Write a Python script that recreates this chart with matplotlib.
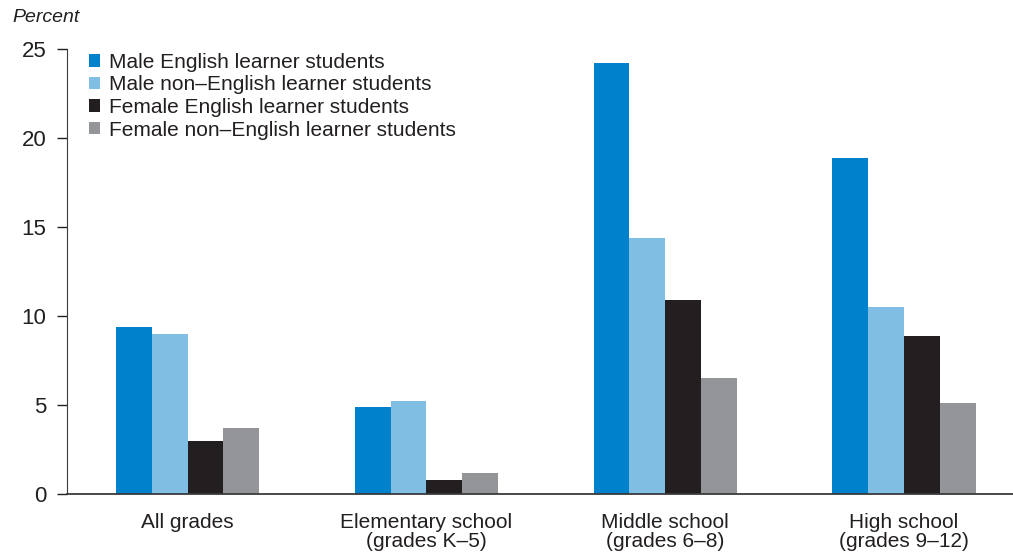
import numpy as np
import matplotlib
matplotlib.use('Agg')
import matplotlib.pyplot as plt

plt.rcParams['font.family'] = ['Liberation Sans', 'DejaVu Sans']

# 学年区分
groups = ['All grades', 'Elementary school\n(grades K–5)',
          'Middle school\n(grades 6–8)', 'High school\n(grades 9–12)']
series = ['Male English learner students', 'Male non–English learner students',
          'Female English learner students', 'Female non–English learner students']
male_el = [9.4, 4.9, 24.2, 18.9]
male_non_el = [9.0, 5.2, 14.4, 10.5]
female_el = [3.0, 0.8, 10.9, 8.9]
female_non_el = [3.7, 1.2, 6.5, 5.1]
colors = ['#0081CB', '#80BFE3', '#231F20', '#939598']

values = [male_el, male_non_el, female_el, female_non_el]

fig = plt.figure(figsize=(10.13, 5.54), dpi=100)
ax = fig.add_axes([67 / 1013, 60 / 554, 1 - 67 / 1013, 445 / 554])

x = np.arange(len(groups))
w = 0.15
for i, (vals, lab, c) in enumerate(zip(values, series, colors)):
    ax.bar(x + (i - 1.5) * w, vals, w, color=c, label=lab)

ax.set_xlim(-0.505, 3.456)
ax.set_ylim(0, 25)
ax.set_yticks([0, 5, 10, 15, 20, 25])
ax.set_xticks(x)
ax.set_xticklabels(groups, fontsize=15, color='#231F20', linespacing=0.97)
ax.tick_params(axis='x', length=0, pad=14)
ax.tick_params(axis='y', length=7, width=1, direction='out', labelsize=16,
               colors='#231F20', pad=8)
for s in ['top', 'right']:
    ax.spines[s].set_visible(False)
ax.spines['left'].set_color('#3a3a3a')
ax.spines['bottom'].set_color('#3a3a3a')
ax.spines['bottom'].set_linewidth(1.3)

fig.text(12 / 1013, 1 - 18 / 554, 'Percent', fontsize=14, style='italic',
         color='#231F20', va='center')

leg = ax.legend(loc='upper left', bbox_to_anchor=(0.014, 1.01), frameon=False,
                fontsize=15, handlelength=0.55, handleheight=0.55,
                handletextpad=0.45, labelspacing=0.17, borderaxespad=0)
for t in leg.get_texts():
    t.set_color('#231F20')

fig.savefig('out.png', dpi=100)
